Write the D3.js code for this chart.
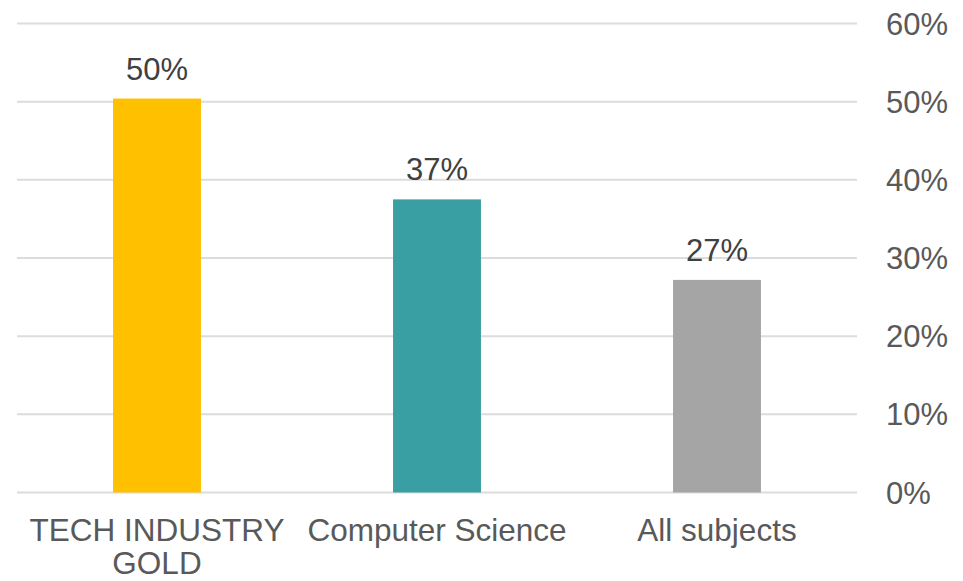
<!DOCTYPE html>
<html lang="en">
<head>
  <meta charset="UTF-8">
  <title>Share by subject</title>
  <script src="https://d3js.org/d3.v7.min.js"></script>
  <style>
    body {
      margin: 0;
      font-family: "Liberation Sans", Arial, sans-serif;
      background: #fff;
    }
  </style>
</head>
<body>
<script>
const categories = [["TECH INDUSTRY", "GOLD"], ["Computer Science"], ["All subjects"]];
const values = [50.4, 37.5, 27.2];
const valueLabels = ["50%", "37%", "27%"];
const colors = ["#FFC000", "#3A9FA3", "#A5A5A5"];
const ticks = [0, 10, 20, 30, 40, 50, 60];

const width = 963;
const height = 581;

const svg = d3.select("body").append("svg")
  .attr("width", width)
  .attr("height", height);

const x = d3.scaleBand()
  .domain(d3.range(categories.length))
  .range([17, 857])
  .paddingInner(0.686)
  .paddingOuter(0.343);

const y = d3.scaleLinear()
  .domain([0, 60])
  .range([492.5, 23.5]);

// gridlines
svg.append("g")
  .selectAll("line")
  .data(ticks)
  .join("line")
  .attr("x1", 17)
  .attr("x2", 857)
  .attr("y1", d => y(d))
  .attr("y2", d => y(d))
  .attr("stroke", "#dcdcdc")
  .attr("stroke-width", 2);

// right axis labels
svg.append("g")
  .selectAll("text")
  .data(ticks)
  .join("text")
  .attr("x", 886)
  .attr("y", d => y(d) + 11)
  .attr("font-size", 31)
  .attr("fill", "#595959")
  .text(d => d + "%");

// bars
svg.append("g")
  .selectAll("rect")
  .data(values)
  .join("rect")
  .attr("x", (d, i) => x(i))
  .attr("width", x.bandwidth())
  .attr("y", d => y(d))
  .attr("height", d => y(0) - y(d))
  .attr("fill", (d, i) => colors[i]);

// value labels
svg.append("g")
  .selectAll("text")
  .data(values)
  .join("text")
  .attr("x", (d, i) => x(i) + x.bandwidth() / 2)
  .attr("y", d => y(d) - 19)
  .attr("text-anchor", "middle")
  .attr("font-size", 31)
  .attr("fill", "#404040")
  .text((d, i) => valueLabels[i]);

// category labels
const cat = svg.append("g")
  .selectAll("text")
  .data(categories)
  .join("text")
  .attr("x", (d, i) => x(i) + x.bandwidth() / 2)
  .attr("y", 541)
  .attr("text-anchor", "middle")
  .attr("font-size", 31.5)
  .attr("fill", "#595959");

cat.selectAll("tspan")
  .data(d => d)
  .join("tspan")
  .attr("x", function () { return d3.select(this.parentNode).attr("x"); })
  .attr("dy", (d, i) => i === 0 ? 0 : 33)
  .text(d => d);
</script>
</body>
</html>
